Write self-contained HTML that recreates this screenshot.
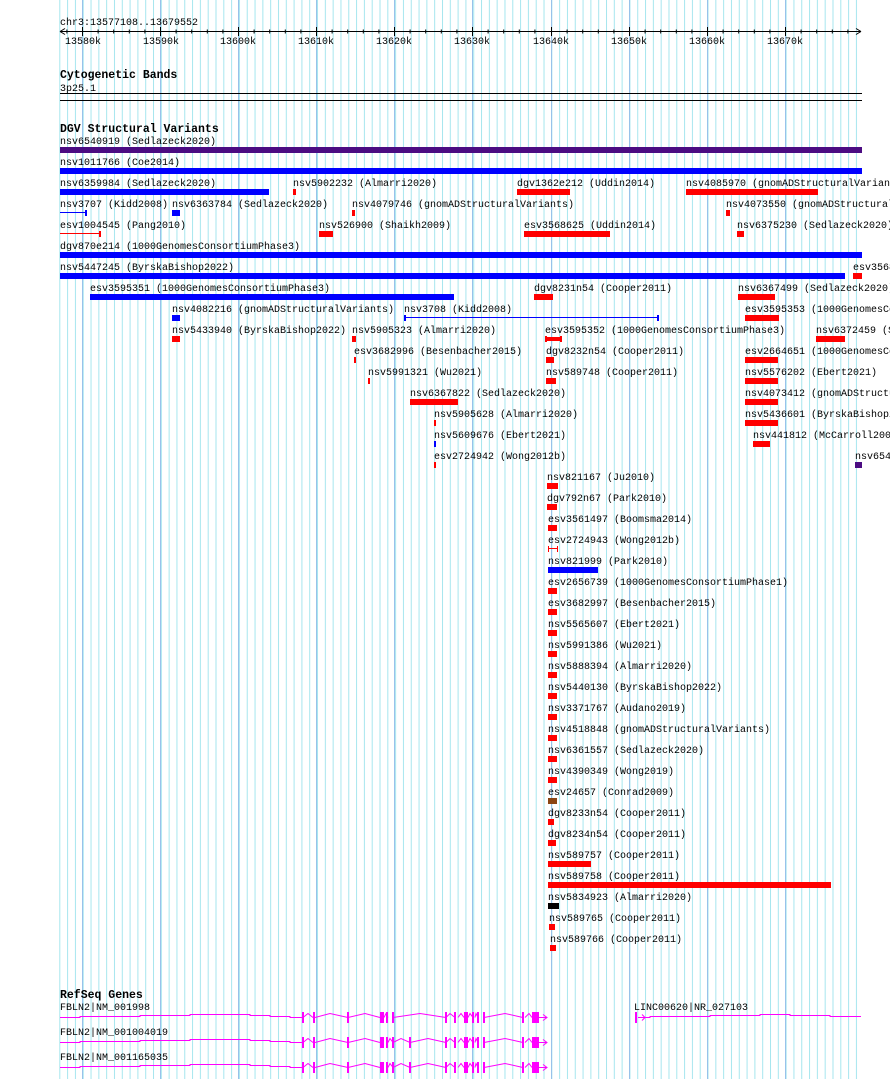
<!DOCTYPE html>
<html><head><meta charset="utf-8"><style>
html,body{margin:0;padding:0;background:#fff;}
svg{display:block;}
text{font-family:"Liberation Mono","DejaVu Sans Mono",monospace;font-size:10px;fill:#000;}
.b{font-weight:bold;font-size:11.5px;}
</style></head><body>
<svg width="890" height="1079" viewBox="0 0 890 1079" xmlns="http://www.w3.org/2000/svg">
<defs>
<pattern id="mg" x="59.3" y="0" width="7.81" height="1079" patternUnits="userSpaceOnUse">
<rect x="0" y="0" width="1" height="1079" fill="#a6e6ee"/>
</pattern>
</defs>
<rect x="59" y="0" width="803" height="1079" fill="url(#mg)"/>
<g fill="#98c2ea">
<rect x="82" y="0" width="1" height="1079"/><rect x="160" y="0" width="1" height="1079"/><rect x="238" y="0" width="1" height="1079"/><rect x="316" y="0" width="1" height="1079"/><rect x="394" y="0" width="1" height="1079"/><rect x="472" y="0" width="1" height="1079"/><rect x="551" y="0" width="1" height="1079"/><rect x="629" y="0" width="1" height="1079"/><rect x="707" y="0" width="1" height="1079"/><rect x="785" y="0" width="1" height="1079"/>
</g>
<!-- ruler -->
<text x="60" y="25">chr3:13577108..13679552</text>
<rect x="60" y="31" width="801" height="1" fill="#000"/>
<path d="M60 31.5 L65 28.5 M60 31.5 L65 34.5 M861 31.5 L856 28.5 M861 31.5 L856 34.5" stroke="#000" fill="none"/>
<g stroke="#000" stroke-width="1">
<path d="M82.5 27 V36 M160.5 27 V36 M238.5 27 V36 M316.5 27 V36 M394.5 27 V36 M472.5 27 V36 M551.5 27 V36 M629.5 27 V36 M707.5 27 V36 M785.5 27 V36"/>
</g>
<g fill="#000">
<text x="65" y="44">13580k</text><text x="143" y="44">13590k</text><text x="220" y="44">13600k</text><text x="298" y="44">13610k</text><text x="376" y="44">13620k</text><text x="454" y="44">13630k</text><text x="533" y="44">13640k</text><text x="611" y="44">13650k</text><text x="689" y="44">13660k</text><text x="767" y="44">13670k</text>
</g>
<path d="M98.1 29.5 V33.5 M113.7 29.5 V33.5 M129.3 29.5 V33.5 M144.9 29.5 V33.5 M176.1 29.5 V33.5 M191.7 29.5 V33.5 M207.3 29.5 V33.5 M222.9 29.5 V33.5 M254.1 29.5 V33.5 M269.7 29.5 V33.5 M285.3 29.5 V33.5 M300.9 29.5 V33.5 M332.1 29.5 V33.5 M347.7 29.5 V33.5 M363.3 29.5 V33.5 M378.9 29.5 V33.5 M410.1 29.5 V33.5 M425.7 29.5 V33.5 M441.3 29.5 V33.5 M456.9 29.5 V33.5 M488.1 29.5 V33.5 M503.7 29.5 V33.5 M519.3 29.5 V33.5 M534.9 29.5 V33.5 M567.1 29.5 V33.5 M582.7 29.5 V33.5 M598.3 29.5 V33.5 M613.9 29.5 V33.5 M645.1 29.5 V33.5 M660.7 29.5 V33.5 M676.3 29.5 V33.5 M691.9 29.5 V33.5 M723.1 29.5 V33.5 M738.7 29.5 V33.5 M754.3 29.5 V33.5 M769.9 29.5 V33.5 M801.1 29.5 V33.5 M816.7 29.5 V33.5 M832.3 29.5 V33.5 M847.9 29.5 V33.5 M66.9 29.5 V33.5" stroke="#000"/>
<!-- cyto -->
<text class="b" x="60" y="78">Cytogenetic Bands</text>
<text x="60" y="91">3p25.1</text>
<rect x="60" y="93" width="802" height="1" fill="#000"/>
<rect x="60" y="100" width="802" height="1" fill="#000"/>
<text class="b" x="60" y="132">DGV Structural Variants</text>
<g>
<text x="60" y="144">nsv6540919 (Sedlazeck2020)</text>
<rect x="60" y="147" width="802" height="6" fill="#4b0c82"/>
<text x="60" y="165">nsv1011766 (Coe2014)</text>
<rect x="60" y="168" width="802" height="6" fill="#0000ff"/>
<text x="60" y="186">nsv6359984 (Sedlazeck2020)</text>
<rect x="60" y="189" width="209" height="6" fill="#0000ff"/>
<text x="293" y="186">nsv5902232 (Almarri2020)</text>
<rect x="293" y="189" width="3" height="6" fill="#f00"/>
<text x="517" y="186">dgv1362e212 (Uddin2014)</text>
<rect x="517" y="189" width="53" height="6" fill="#f00"/>
<text x="686" y="186">nsv4085970 (gnomADStructuralVariants)</text>
<rect x="686" y="189" width="132" height="6" fill="#f00"/>
<text x="60" y="207">nsv3707 (Kidd2008)</text>
<rect x="60" y="212" width="26" height="1" fill="#0000ff"/><rect x="85" y="210" width="2" height="6" fill="#0000ff"/>
<text x="172" y="207">nsv6363784 (Sedlazeck2020)</text>
<rect x="172" y="210" width="8" height="6" fill="#0000ff"/>
<text x="352" y="207">nsv4079746 (gnomADStructuralVariants)</text>
<rect x="352" y="210" width="3" height="6" fill="#f00"/>
<text x="726" y="207">nsv4073550 (gnomADStructuralVariants)</text>
<rect x="726" y="210" width="4" height="6" fill="#f00"/>
<text x="60" y="228">esv1004545 (Pang2010)</text>
<rect x="60" y="233" width="40" height="1" fill="#f00"/><rect x="99" y="231" width="2" height="6" fill="#f00"/>
<text x="319" y="228">nsv526900 (Shaikh2009)</text>
<rect x="319" y="231" width="14" height="6" fill="#f00"/>
<text x="524" y="228">esv3568625 (Uddin2014)</text>
<rect x="524" y="231" width="86" height="6" fill="#f00"/>
<text x="737" y="228">nsv6375230 (Sedlazeck2020)</text>
<rect x="737" y="231" width="7" height="6" fill="#f00"/>
<text x="60" y="249">dgv870e214 (1000GenomesConsortiumPhase3)</text>
<rect x="60" y="252" width="802" height="6" fill="#0000ff"/>
<text x="60" y="270">nsv5447245 (ByrskaBishop2022)</text>
<rect x="60" y="273" width="785" height="6" fill="#0000ff"/>
<text x="853" y="270">esv3568626</text>
<rect x="853" y="273" width="9" height="6" fill="#f00"/>
<text x="90" y="291">esv3595351 (1000GenomesConsortiumPhase3)</text>
<rect x="90" y="294" width="364" height="6" fill="#0000ff"/>
<text x="534" y="291">dgv8231n54 (Cooper2011)</text>
<rect x="534" y="294" width="19" height="6" fill="#f00"/>
<text x="738" y="291">nsv6367499 (Sedlazeck2020)</text>
<rect x="738" y="294" width="37" height="6" fill="#f00"/>
<text x="172" y="312">nsv4082216 (gnomADStructuralVariants)</text>
<rect x="172" y="315" width="8" height="6" fill="#0000ff"/>
<text x="404" y="312">nsv3708 (Kidd2008)</text>
<rect x="404" y="317" width="254" height="1" fill="#0000ff"/><rect x="404" y="315" width="2" height="6" fill="#0000ff"/><rect x="657" y="315" width="2" height="6" fill="#0000ff"/>
<text x="745" y="312">esv3595353 (1000GenomesConsortiumPhase3)</text>
<rect x="745" y="315" width="34" height="6" fill="#f00"/>
<text x="172" y="333">nsv5433940 (ByrskaBishop2022)</text>
<rect x="172" y="336" width="8" height="6" fill="#f00"/>
<text x="352" y="333">nsv5905323 (Almarri2020)</text>
<rect x="352" y="336" width="4" height="6" fill="#f00"/>
<text x="545" y="333">esv3595352 (1000GenomesConsortiumPhase3)</text>
<rect x="545" y="336" width="2" height="6" fill="#f00"/><rect x="547" y="337" width="14" height="4" fill="#f00"/><rect x="560" y="336" width="2" height="6" fill="#f00"/>
<text x="816" y="333">nsv6372459 (Sedlazeck2020)</text>
<rect x="816" y="336" width="29" height="6" fill="#f00"/>
<text x="354" y="354">esv3682996 (Besenbacher2015)</text>
<rect x="354" y="357" width="2" height="6" fill="#f00"/>
<text x="546" y="354">dgv8232n54 (Cooper2011)</text>
<rect x="546" y="357" width="8" height="6" fill="#f00"/>
<text x="745" y="354">esv2664651 (1000GenomesConsortiumPhase3)</text>
<rect x="745" y="357" width="33" height="6" fill="#f00"/>
<text x="368" y="375">nsv5991321 (Wu2021)</text>
<rect x="368" y="378" width="2" height="6" fill="#f00"/>
<text x="546" y="375">nsv589748 (Cooper2011)</text>
<rect x="546" y="378" width="10" height="6" fill="#f00"/>
<text x="745" y="375">nsv5576202 (Ebert2021)</text>
<rect x="745" y="378" width="33" height="6" fill="#f00"/>
<text x="410" y="396">nsv6367822 (Sedlazeck2020)</text>
<rect x="410" y="399" width="48" height="6" fill="#f00"/>
<text x="745" y="396">nsv4073412 (gnomADStructuralVariants)</text>
<rect x="745" y="399" width="33" height="6" fill="#f00"/>
<text x="434" y="417">nsv5905628 (Almarri2020)</text>
<rect x="434" y="420" width="2" height="6" fill="#f00"/>
<text x="745" y="417">nsv5436601 (ByrskaBishop2022)</text>
<rect x="745" y="420" width="33" height="6" fill="#f00"/>
<text x="434" y="438">nsv5609676 (Ebert2021)</text>
<rect x="434" y="441" width="2" height="6" fill="#0000ff"/>
<text x="753" y="438">nsv441812 (McCarroll2008)</text>
<rect x="753" y="441" width="17" height="6" fill="#f00"/>
<text x="434" y="459">esv2724942 (Wong2012b)</text>
<rect x="434" y="462" width="2" height="6" fill="#f00"/>
<text x="855" y="459">nsv6540</text>
<rect x="855" y="462" width="7" height="6" fill="#4b0c82"/>
<text x="547" y="480">nsv821167 (Ju2010)</text><rect x="547" y="483" width="11" height="6" fill="#f00"/>
<text x="547" y="501">dgv792n67 (Park2010)</text><rect x="547" y="504" width="10" height="6" fill="#f00"/>
<text x="548" y="522">esv3561497 (Boomsma2014)</text><rect x="548" y="525" width="9" height="6" fill="#f00"/>
<text x="548" y="543">esv2724943 (Wong2012b)</text><rect x="548" y="548" width="9" height="1" fill="#f00"/><rect x="548" y="546" width="1" height="6" fill="#f00"/><rect x="557" y="546" width="1" height="6" fill="#f00"/>
<text x="548" y="564">nsv821999 (Park2010)</text><rect x="548" y="567" width="50" height="6" fill="#0000ff"/>
<text x="548" y="585">esv2656739 (1000GenomesConsortiumPhase1)</text><rect x="548" y="588" width="9" height="6" fill="#f00"/>
<text x="548" y="606">esv3682997 (Besenbacher2015)</text><rect x="548" y="609" width="9" height="6" fill="#f00"/>
<text x="548" y="627">nsv5565607 (Ebert2021)</text><rect x="548" y="630" width="9" height="6" fill="#f00"/>
<text x="548" y="648">nsv5991386 (Wu2021)</text><rect x="548" y="651" width="9" height="6" fill="#f00"/>
<text x="548" y="669">nsv5888394 (Almarri2020)</text><rect x="548" y="672" width="9" height="6" fill="#f00"/>
<text x="548" y="690">nsv5440130 (ByrskaBishop2022)</text><rect x="548" y="693" width="9" height="6" fill="#f00"/>
<text x="548" y="711">nsv3371767 (Audano2019)</text><rect x="548" y="714" width="9" height="6" fill="#f00"/>
<text x="548" y="732">nsv4518848 (gnomADStructuralVariants)</text><rect x="548" y="735" width="9" height="6" fill="#f00"/>
<text x="548" y="753">nsv6361557 (Sedlazeck2020)</text><rect x="548" y="756" width="9" height="6" fill="#f00"/>
<text x="548" y="774">nsv4390349 (Wong2019)</text><rect x="548" y="777" width="9" height="6" fill="#f00"/>
<text x="548" y="795">esv24657 (Conrad2009)</text><rect x="548" y="798" width="9" height="6" fill="#8b4513"/>
<text x="548" y="816">dgv8233n54 (Cooper2011)</text><rect x="548" y="819" width="6" height="6" fill="#f00"/>
<text x="548" y="837">dgv8234n54 (Cooper2011)</text><rect x="548" y="840" width="8" height="6" fill="#f00"/>
<text x="548" y="858">nsv589757 (Cooper2011)</text><rect x="548" y="861" width="43" height="6" fill="#f00"/>
<text x="548" y="879">nsv589758 (Cooper2011)</text><rect x="548" y="882" width="283" height="6" fill="#f00"/>
<text x="548" y="900">nsv5834923 (Almarri2020)</text><rect x="548" y="903" width="11" height="6" fill="#000"/>
<text x="549" y="921">nsv589765 (Cooper2011)</text><rect x="549" y="924" width="6" height="6" fill="#f00"/>
<text x="550" y="942">nsv589766 (Cooper2011)</text><rect x="550" y="945" width="6" height="6" fill="#f00"/>
</g>
<!-- RefSeq -->
<text class="b" x="60" y="998">RefSeq Genes</text>
<text x="60" y="1010">FBLN2|NM_001998</text>
<text x="60" y="1035">FBLN2|NM_001004019</text>
<text x="60" y="1060">FBLN2|NM_001165035</text>
<text x="634" y="1010">LINC00620|NR_027103</text>
<g stroke="#ff00ff" fill="none">
<path d="M60 1017.5 H80 V1016.5 H140 V1015.5 H190 V1014.5 H250 V1015.5 H270 V1016.5 H290 V1017.5 H303"/>
<path d="M60 1042.5 H80 V1041.5 H140 V1040.5 H190 V1039.5 H250 V1040.5 H270 V1041.5 H290 V1042.5 H303"/>
<path d="M60 1067.5 H80 V1066.5 H140 V1065.5 H190 V1064.5 H250 V1065.5 H270 V1066.5 H290 V1067.5 H303"/>
<path d="M303 1017.5 L308 1013.5 L313 1017.5 M315 1017.5 L330 1013.5 L348 1017.5 L365 1013.5 L380 1017.5 M393 1017.5 L420 1013.5 L446 1017.5 M484 1017.5 L505 1013.5 L523 1017.5 M525 1017.5 L529 1013.5 L532 1017.5 M539 1017.5 H547 M543 1014.5 L547 1017.5 L543 1020.5"/>
<path d="M303 1042.5 L308 1038.5 L313 1042.5 M315 1042.5 L330 1038.5 L348 1042.5 L365 1038.5 L380 1042.5 M393 1042.5 L401 1038.5 L410 1042.5 L428 1038.5 L446 1042.5 M484 1042.5 L505 1038.5 L523 1042.5 M525 1042.5 L529 1038.5 L532 1042.5 M539 1042.5 H547 M543 1039.5 L547 1042.5 L543 1045.5"/>
<path d="M303 1067.5 L308 1063.5 L313 1067.5 M315 1067.5 L330 1063.5 L348 1067.5 L365 1063.5 L380 1067.5 M393 1067.5 L401 1063.5 L410 1067.5 L428 1063.5 L446 1067.5 M484 1067.5 L505 1063.5 L523 1067.5 M525 1067.5 L529 1063.5 L532 1067.5 M539 1067.5 H547 M543 1064.5 L547 1067.5 L543 1070.5"/>
<path d="M446 1017.5 L450 1013.5 L455 1017.5 M458 1017.5 L461 1013.5 L464 1017.5 M468 1017.5 L470 1013.5 L473 1017.5 M475 1017.5 L476 1013.5 L478 1017.5"/>
<path d="M446 1042.5 L450 1038.5 L455 1042.5 M458 1042.5 L461 1038.5 L464 1042.5 M468 1042.5 L470 1038.5 L473 1042.5 M475 1042.5 L476 1038.5 L478 1042.5"/>
<path d="M446 1067.5 L450 1063.5 L455 1067.5 M458 1067.5 L461 1063.5 L464 1067.5 M468 1067.5 L470 1063.5 L473 1067.5 M475 1067.5 L476 1063.5 L478 1067.5"/>
<path d="M384 1017.5 L386 1013.5 L388 1017.5 M388 1042.5 L390 1038.5 L393 1042.5 M388 1067.5 L390 1063.5 L393 1067.5"/>
<path d="M638 1017.5 H650 V1016.5 H710 V1015.5 H760 V1014.5 H790 V1015.5 H830 V1016.5 H861 M642 1014.5 L645 1017.5 L642 1020.5"/>
</g>
<g fill="#ff00ff">
<rect x="302" y="1012" width="2" height="11"/><rect x="313" y="1012" width="2" height="11"/><rect x="347" y="1012" width="2" height="11"/>
<rect x="380" y="1012" width="4" height="11"/><rect x="386" y="1012" width="2" height="11"/><rect x="392" y="1012" width="2" height="11"/>
<rect x="445" y="1012" width="2" height="11"/><rect x="454" y="1012" width="2" height="11"/><rect x="464" y="1012" width="4" height="11"/><rect x="472" y="1012" width="2" height="11"/><rect x="477" y="1012" width="2" height="11"/><rect x="483" y="1012" width="2" height="11"/>
<rect x="522" y="1012" width="2" height="11"/><rect x="532" y="1012" width="7" height="11"/>
<rect x="302" y="1037" width="2" height="11"/><rect x="313" y="1037" width="2" height="11"/><rect x="347" y="1037" width="2" height="11"/>
<rect x="380" y="1037" width="4" height="11"/><rect x="386" y="1037" width="2" height="11"/><rect x="392" y="1037" width="2" height="11"/><rect x="409" y="1037" width="2" height="11"/>
<rect x="445" y="1037" width="2" height="11"/><rect x="454" y="1037" width="2" height="11"/><rect x="464" y="1037" width="4" height="11"/><rect x="472" y="1037" width="2" height="11"/><rect x="477" y="1037" width="2" height="11"/><rect x="483" y="1037" width="2" height="11"/>
<rect x="522" y="1037" width="2" height="11"/><rect x="532" y="1037" width="7" height="11"/>
<rect x="302" y="1062" width="2" height="11"/><rect x="313" y="1062" width="2" height="11"/><rect x="347" y="1062" width="2" height="11"/>
<rect x="380" y="1062" width="4" height="11"/><rect x="386" y="1062" width="2" height="11"/><rect x="392" y="1062" width="2" height="11"/><rect x="409" y="1062" width="2" height="11"/>
<rect x="445" y="1062" width="2" height="11"/><rect x="454" y="1062" width="2" height="11"/><rect x="464" y="1062" width="4" height="11"/><rect x="472" y="1062" width="2" height="11"/><rect x="477" y="1062" width="2" height="11"/><rect x="483" y="1062" width="2" height="11"/>
<rect x="522" y="1062" width="2" height="11"/><rect x="532" y="1062" width="7" height="11"/>
<rect x="635" y="1012" width="2" height="11"/>
</g>
</svg>
</body></html>
